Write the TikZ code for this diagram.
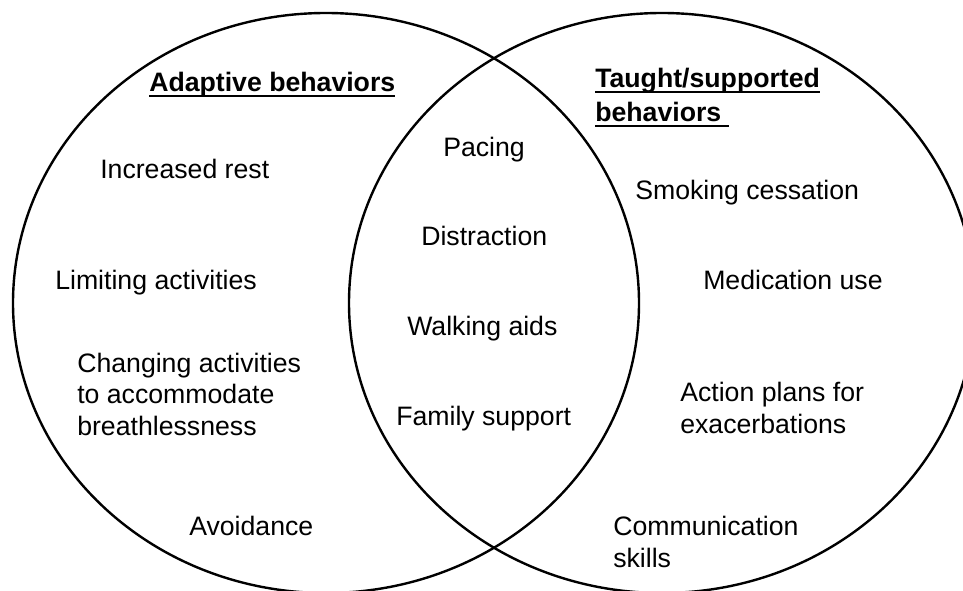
\documentclass[tikz,border=0pt]{standalone}
\usepackage{fontspec}
\setmainfont{Liberation Sans}
\usetikzlibrary{positioning}
\newcommand\ulinetext[1]{\setbox0\hbox{#1}\rlap{\rule[-3.9pt]{\wd0}{1.4pt}}\box0}
\begin{document}
\begin{tikzpicture}[x=0.75pt, y=-0.75pt,
    set/.style={line width=1.8pt},
    item/.style={anchor=base west, inner sep=0pt, align=left, font=\fontsize{20}{23.3}\selectfont},
    heading/.style={item, font=\fontsize{20}{25.5}\selectfont\bfseries}]
  \clip (0,0) rectangle (963,591);
  % Two sets
  \draw[set] (326,303) ellipse [x radius=234.75pt, y radius=217.5pt];
  \draw[set] (662,303) ellipse [x radius=234.75pt, y radius=217.5pt];

  % Adaptive side
  \node[heading] (adaptive) at (149,92) {\ulinetext{Adaptive behaviors}};
  \node[item] (rest) at (100,179) {Increased rest};
  \node[item] (limit) at (55,290) {Limiting activities};
  \node[item] (change) at (77,435) {Changing activities\\to accommodate\\breathlessness};
  \node[item] (avoid) at (189,535) {Avoidance};

  % Overlap
  \node[item] (pacing) at (443,157) {Pacing};
  \node[item] (distract) at (421,246) {Distraction};
  \node[item] (walking) at (407,335) {Walking aids};
  \node[item] (family) at (396,425) {Family support};

  % Taught side
  \node[heading] (taught) at (595,122) {\ulinetext{Taught/supported}\\\ulinetext{behaviors\ }};
  \node[item] (smoking) at (635,200) {Smoking cessation};
  \node[item] (medic) at (703,290) {Medication use};
  \node[item] (action) at (680,433) {Action plans for\\exacerbations};
  \node[item] (comm) at (613,567) {Communication\\skills};
\end{tikzpicture}
\end{document}
